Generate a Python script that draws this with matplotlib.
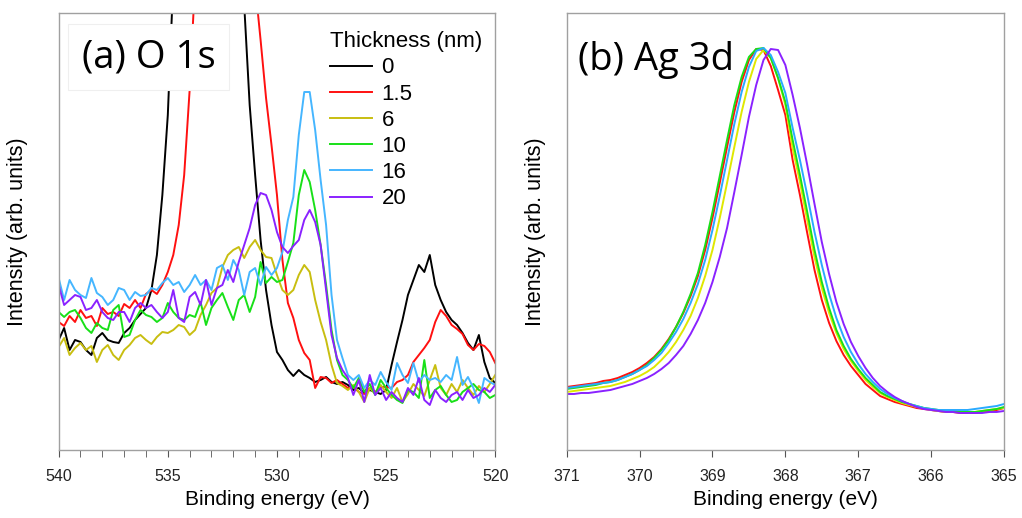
"""
XPS spectra: (a) O 1s and (b) Ag 3d for several film thicknesses.
Saves out.png (1022x518).
"""

import numpy as np
import matplotlib
matplotlib.use("Agg")
import matplotlib.pyplot as plt
from matplotlib.ticker import MultipleLocator

# ── Data (intensity in arbitrary units) ──
thickness_labels = ["0", "1.5", "6", "10", "16", "20"]

# O 1s, 540 -> 520 eV, 0.25 eV step
o1s_energy = np.linspace(540, 520, 81)
o1s_0 = [110, 122, 100, 110, 108, 100, 95, 112, 117, 110,
         108, 107, 117, 122, 130, 136, 142, 160, 195, 255,
         335, 470, 620, 800, 920, 1020, 1080, 1110, 1120, 1110,
         1080, 1000, 850, 650, 445, 345, 275, 210, 160, 125,
         98, 90, 80, 74, 80, 75, 72, 68, 70, 73,
         68, 66, 68, 65, 60, 62, 57, 60, 58, 56,
         60, 85, 108, 130, 155, 170, 185, 178, 195, 165,
         150, 138, 130, 125, 117, 107, 100, 115, 88, 72,
         67]
o1s_1p5 = [128, 124, 134, 128, 140, 132, 134, 124, 142, 136,
           138, 134, 146, 142, 150, 142, 156, 160, 156, 165,
           178, 195, 225, 275, 360, 470, 580, 680, 760, 810,
           830, 820, 780, 700, 610, 530, 465, 410, 352, 305,
           255, 190, 147, 132, 110, 97, 90, 62, 73, 72,
           67, 70, 66, 62, 63, 58, 56, 62, 58, 63,
           63, 62, 68, 70, 75, 88, 95, 102, 110, 128,
           140, 134, 125, 121, 116, 105, 100, 106, 104, 98,
           87]
o1s_6 = [103, 112, 95, 102, 107, 100, 104, 88, 100, 105,
         95, 90, 100, 105, 112, 115, 110, 106, 113, 118,
         117, 120, 125, 123, 115, 120, 135, 145, 157, 162,
         183, 195, 200, 203, 192, 203, 210, 200, 193, 192,
         175, 160, 155, 160, 175, 185, 178, 150, 128, 110,
         85, 67, 64, 60, 65, 58, 48, 62, 56, 65,
         58, 52, 62, 48, 56, 66, 60, 54, 70, 85,
         62, 55, 66, 58, 70, 62, 55, 64, 58, 66,
         75]
o1s_10 = [138, 133, 138, 140, 132, 122, 117, 127, 122, 120,
          140, 145, 113, 115, 130, 140, 135, 133, 128, 132,
          147, 138, 132, 130, 135, 133, 148, 125, 142, 150,
          157, 143, 130, 150, 155, 138, 153, 188, 167, 173,
          168, 170, 188, 207, 255, 280, 268, 240, 205, 165,
          120, 90, 75, 70, 62, 72, 58, 66, 55, 70,
          62, 55, 50, 47, 60, 58, 52, 90, 52, 60,
          64, 55, 48, 50, 58, 62, 66, 60, 58, 52,
          55]
o1s_16 = [172, 150, 170, 160, 155, 152, 172, 157, 153, 145,
          150, 162, 160, 150, 158, 154, 155, 162, 160, 167,
          172, 165, 168, 158, 165, 175, 165, 170, 160, 182,
          185, 170, 190, 180, 155, 178, 182, 165, 183, 175,
          182, 198, 230, 253, 315, 358, 358, 320, 270, 225,
          155, 110, 92, 75, 70, 75, 62, 70, 65, 78,
          68, 60, 87, 75, 67, 87, 68, 75, 70, 72,
          68, 75, 70, 93, 65, 73, 62, 47, 72, 68,
          65]
o1s_20 = [165, 145, 150, 155, 153, 140, 142, 150, 138, 132,
          130, 138, 138, 128, 142, 147, 142, 145, 138, 132,
          138, 160, 132, 128, 153, 158, 145, 170, 145, 162,
          165, 180, 168, 188, 205, 222, 245, 257, 255, 240,
          218, 203, 197, 204, 210, 230, 240, 228, 205, 160,
          115, 92, 80, 72, 55, 70, 48, 75, 55, 62,
          50, 58, 52, 48, 62, 55, 72, 50, 45, 60,
          52, 48, 55, 58, 50, 60, 52, 55, 62, 58,
          65]

# Ag 3d, 371 -> 365 eV, 0.1 eV step (no Ag for the bare substrate)
ag_energy = np.linspace(371, 365, 61)
ag_1p5 = [63, 64, 65, 66, 67, 69, 70, 72, 75, 78,
          82, 87, 93, 101, 111, 123, 137, 154, 174, 200,
          232, 267, 303, 338, 368, 390, 401, 400, 384, 360,
          335, 290, 255, 217, 180, 150, 127, 109, 95, 84,
          75, 66, 60, 54, 51, 48, 46, 44, 42, 41,
          40, 39, 38, 38, 37, 37, 37, 38, 39, 40,
          42]
ag_6 = [58, 59, 60, 61, 62, 63, 64, 66, 68, 71,
        74, 78, 83, 90, 98, 108, 120, 134, 152, 174,
        200, 232, 267, 303, 338, 368, 391, 400, 392, 372,
        345, 302, 268, 230, 193, 162, 137, 117, 101, 89,
        79, 70, 63, 57, 53, 50, 47, 45, 43, 42,
        40, 39, 38, 38, 38, 38, 38, 39, 40, 41,
        42]
ag_10 = [61, 62, 63, 64, 65, 67, 68, 70, 73, 76,
         80, 85, 92, 100, 110, 123, 138, 156, 177, 205,
         238, 274, 310, 345, 373, 393, 401, 402, 392, 372,
         348, 310, 275, 238, 200, 168, 142, 120, 104, 91,
         81, 72, 65, 58, 54, 51, 48, 46, 44, 42,
         41, 40, 39, 39, 38, 38, 38, 39, 40, 41,
         43]
ag_16 = [62, 63, 64, 65, 66, 67, 68, 70, 73, 76,
         80, 84, 90, 97, 107, 118, 131, 147, 166, 190,
         220, 254, 290, 326, 358, 383, 399, 402, 395, 378,
         357, 322, 290, 255, 218, 185, 156, 132, 113, 98,
         86, 76, 68, 61, 56, 52, 49, 46, 44, 42,
         41, 40, 40, 40, 40, 40, 41, 42, 43, 44,
         46]
ag_20 = [56, 56, 57, 57, 58, 59, 60, 62, 64, 66,
         69, 72, 76, 81, 87, 95, 104, 116, 130, 147,
         168, 193, 222, 258, 295, 333, 365, 390, 401, 400,
         385, 355, 322, 285, 246, 208, 176, 148, 126, 108,
         94, 82, 72, 64, 58, 53, 49, 46, 43, 41,
         40, 39, 38, 38, 37, 37, 37, 37, 38, 38,
         39]

# ── Colours ────────────────────────────────────────────────────────────
O1S_COLORS = ["#000000", "#ff1010", "#c8be10", "#18e018", "#45b6ff", "#8a22ff"]
AG_COLORS = ["#ff1010", "#dfe800", "#18e018", "#2aaaff", "#8a22ff"]
SPINE_COLOR = "#a0a0a0"

plt.rcParams["font.family"] = ["Liberation Sans", "DejaVu Sans"]

fig = plt.figure(figsize=(10.22, 5.18), dpi=100)
ax_o = fig.add_axes([0.0574, 0.1313, 0.4272, 0.8436])
ax_ag = fig.add_axes([0.5545, 0.1313, 0.4279, 0.8436])

# ── (a) O 1s ───────────────────────────────────────────────────────────
o1s_series = [o1s_0, o1s_1p5, o1s_6, o1s_10, o1s_16, o1s_20]
for ys, col, lab in zip(o1s_series, O1S_COLORS, thickness_labels):
    ax_o.plot(o1s_energy, ys, color=col, lw=1.4, label=lab)

ax_o.set_xlim(540, 520)
ax_o.set_ylim(0, 437)
ax_o.xaxis.set_major_locator(MultipleLocator(5))
ax_o.xaxis.set_minor_locator(MultipleLocator(1))

ax_o.text(0.053, 0.899, "(a) O 1s", transform=ax_o.transAxes,
          fontsize=27.5, family="Open Sans", ha="left", va="center", zorder=10,
          bbox=dict(boxstyle="square,pad=0.36", fc="white", ec="#efefef", lw=0.8))

leg = ax_o.legend(loc="upper left", bbox_to_anchor=(0.597, 0.984),
                  title="Thickness (nm)", alignment="left", frameon=False,
                  fontsize=16, title_fontsize=16, borderpad=0,
                  handlelength=1.85, handletextpad=0.45, labelspacing=0.235)

# ── (b) Ag 3d ──────────────────────────────────────────────────────────
ag_series = [ag_1p5, ag_6, ag_10, ag_16, ag_20]
for ys, col in zip(ag_series, AG_COLORS):
    ax_ag.plot(ag_energy, ys, color=col, lw=1.4)

ax_ag.set_xlim(371, 365)
ax_ag.set_ylim(0, 437)
ax_ag.xaxis.set_major_locator(MultipleLocator(1))

ax_ag.text(0.026, 0.892, "(b) Ag 3d", transform=ax_ag.transAxes,
           fontsize=27.5, family="Open Sans", ha="left", va="center", zorder=10)

# ── Shared styling ─────────────────────────────────────────────────────
for ax, ypad in ((ax_o, 22), (ax_ag, 15)):
    ax.set_yticks([])
    ax.set_xlabel("Binding energy (eV)", fontsize=15, labelpad=4)
    ax.set_ylabel("Intensity (arb. units)", fontsize=15.5, labelpad=ypad)
    for sp in ax.spines.values():
        sp.set_color(SPINE_COLOR)
        sp.set_linewidth(1.0)
    ax.tick_params(axis="x", which="both", direction="out", length=5,
                   color="#555555", labelsize=11.5, pad=9, labelcolor="#222222")

fig.savefig("out.png", dpi=100)
plt.close(fig)
